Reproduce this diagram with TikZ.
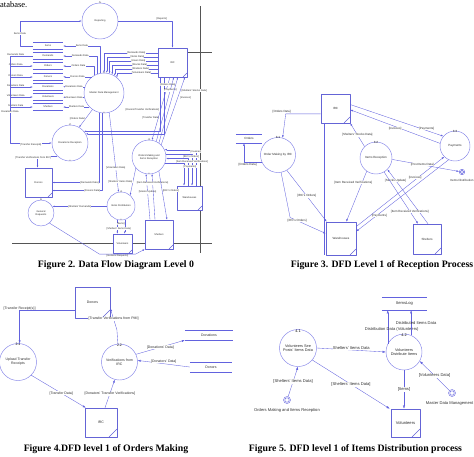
\documentclass[tikz,border=0pt]{standalone}
\usepackage{fontspec}
\setmainfont{Liberation Serif}
\setsansfont{Liberation Sans}
\usetikzlibrary{arrows.meta}

\definecolor{dfdline}{RGB}{98,98,222}
\definecolor{dfdproc}{RGB}{130,130,232}
\definecolor{dfdbox}{RGB}{100,100,214}
\definecolor{frameline}{RGB}{85,85,85}
\definecolor{dfdtext}{RGB}{45,45,45}

\newcommand\dfdsizeA{\sffamily\fontsize{2.5}{2.9}\selectfont}
\newcommand\dfdsizeB{\sffamily\fontsize{3}{3.4}\selectfont}
\newcommand\dfdsizeC{\sffamily\fontsize{3.5}{4}\selectfont}
\newcommand\dfdsizeD{\sffamily\fontsize{4.1}{4.6}\selectfont}
\newcommand\dfdsizeDc{\sffamily\fontsize{3.8}{4.4}\selectfont}

% data store: two horizontal rules with the store name between them
\newcommand\dfdstore[5]{%
  \node[storebox, minimum width=#3, minimum height=#4] (#1) at #2 {#5};
  \draw[storeline] (#1.north west) -- (#1.north east) (#1.south west) -- (#1.south east);}

\tikzset{
  flow/.style={draw=dfdline, line width=0.35pt, ->},
  link/.style={draw=dfdline, line width=0.35pt},
  proc/.style={circle, draw=dfdproc, line width=0.45pt, fill=white, inner sep=0pt, align=center, text=dfdtext},
  ent/.style={rectangle, draw=dfdbox, line width=0.55pt, fill=white, inner sep=0pt, text=dfdtext,
    path picture={\draw[dfdbox, line width=0.45pt]
      ([xshift=-#1]path picture bounding box.south east) -- ([yshift=#1]path picture bounding box.south east);}},
  ent/.default=5pt,
  storebox/.style={rectangle, inner sep=0pt, text=dfdtext},
  storeline/.style={draw=dfdline, line width=0.45pt},
  lbl/.style={fill=white, inner sep=0.25pt, text=dfdtext},
  lbln/.style={inner sep=0.25pt, text=dfdtext},
  frame/.style={draw=frameline, line width=0.4pt},
  caption/.style={font=\rmfamily\bfseries\fontsize{9.8}{11}\selectfont, text=black, inner sep=0pt, anchor=base},
  extent/.style={circle, draw=dfdline, line width=0.4pt, fill=white, inner sep=0pt, minimum size=#1,
    path picture={\draw[dfdline, line width=0.4pt] (path picture bounding box.center) circle (0.32*#1);}},
  extent/.default=6pt,
}

\begin{document}
\begin{tikzpicture}[x=1pt, y=-1pt, line join=round]
\useasboundingbox (0,0) rectangle (474,456);

\node[anchor=base west, inner sep=0pt, font=\rmfamily\fontsize{8.5}{10}\selectfont] (cuttext) at (0,7.5) {atabase.};

%% ---------------- Level 0 ----------------
\begin{scope}[every node/.append style={font=\dfdsizeA}, >={Latex[length=2.2pt,width=1.6pt]}]
\draw[frame] (200,6) -- (200,253);
\draw[frame] (187,52) -- (212,52);
\draw[frame] (12,243) -- (212,243);

\node[proc, minimum size=36pt, label={[label distance=-4.2pt]90:5}] (rep) at (100,21) {Reporting};
\node[proc, minimum size=40pt, label={[label distance=-4.2pt]90:1}, label={[label distance=-4.4pt]-90:+}] (mdm) at (104,93) {Master Data Management};
\node[proc, minimum size=36pt, label={[label distance=-4.2pt]90:2}, label={[label distance=-4.4pt]-90:+}] (don2) at (70,143) {Donations Reception};
\node[proc, minimum size=34pt, label={[label distance=-4.2pt]90:3}, label={[label distance=-4.4pt]-90:+}] (ord3) at (149,157) {Orders Making and\\Items Reception};
\node[proc, minimum size=28pt, label={[label distance=-4.2pt]90:4}, label={[label distance=-4.4pt]-90:+}] (itd4) at (121,206) {Items Distribution};
\node[proc, minimum size=26pt, label={[label distance=-4.2pt]90:6}] (gen6) at (41,213) {General\\Requests};

\node[ent=4pt, minimum width=29pt, minimum height=29pt] (irc) at (172.5,62.5) {IRC};
\node[ent=4pt, minimum width=27pt, minimum height=29pt] (donors) at (38.5,182.5) {Donors};
\node[ent=3pt, minimum width=19pt, minimum height=19pt] (vol) at (122.5,243.5) {Volunteers};
\node[ent=4pt, minimum width=28pt, minimum height=29pt] (sh) at (159,234.5) {Shelters};
\node[ent=4pt, minimum width=25pt, minimum height=24pt] (wh) at (189.5,198) {Warehouses};

\dfdstore{stI}{(48,46)}{30pt}{7pt}{Items}
\dfdstore{stD}{(48,56)}{30pt}{7pt}{Demands}
\dfdstore{stO}{(48,66)}{30pt}{7pt}{Orders}
\dfdstore{stN}{(48,77)}{30pt}{7pt}{Donors}
\dfdstore{stT}{(48,87)}{30pt}{7pt}{Donations}
\dfdstore{stV}{(48,97)}{30pt}{7pt}{Volunteers}
\dfdstore{stS}{(48,107)}{30pt}{7pt}{Shelters}

% left-hand bus feeding the stores
\coordinate (trunk) at (10,56);
\draw[link] (stD.west) -- (trunk) node[lbln,pos=0.75,above=0.1pt]{Demands Data};
\foreach \s/\t in {stO/Orders Data, stN/Donors Data, stT/Donations Data, stV/Volunteers Data, stS/Shelters Data}
  {\draw[flow] (trunk |- \s.west) -- (\s.west) node[lbln,pos=0.25,above=0.1pt]{\t};}
\draw[flow] (trunk) |- (don2.west) node[lbl,pos=0.32]{Donations Data} node[lbl,pos=0.75,below=0.2pt]{[Transfer Receipts]};

% reporting
\draw[flow] (stI.west) -- ++(-13,0) |- (rep.west) node[lbl,pos=0.25]{Items Data};
\draw[flow] (rep.east) -| (irc.north) node[lbl,pos=0.4,above=0.2pt]{[Reports]};

% IRC to master data management
\foreach \dy/\a/\t in {5/90/[Demands Data], 9/82/[Items Data], 13/74/[Users Data], 17/66/[Stocks Data], 21/58/[Shelters Data], 25/50/[Volunteers Data]}
  {\draw[flow] ([yshift=-\dy]irc.north west) -| (mdm.\a) node[lbl,pos=0.2]{\t};}

% master data management to the stores
\draw[flow] (mdm.100) |- (stI.east) node[lbl,pos=0.75]{Items Data};
\draw[flow] (mdm.110) |- (stD.east) node[lbl,pos=0.75]{Demands Data};
\draw[flow] (mdm.120) |- (stO.east) node[lbl,pos=0.75]{Orders Data};
\draw[flow] (mdm.127) -- (mdm.127 -| stN.east) node[lbl,midway]{Donors Data};
\draw[flow] (mdm.162) -- (mdm.162 -| stT.east) node[lbl,midway]{Donations Data};
\draw[flow] (mdm.192) -- (mdm.192 -| stV.east) node[lbl,midway]{Volunteers Data};
\draw[flow] (mdm.224) -- (mdm.224 -| stS.east) node[lbl,midway]{Shelters Data};

\draw[flow] (mdm.235) -- (don2.60) node[lbl,midway,left=0.5pt]{[Orders Data]};
\draw[flow] (mdm.255) |- (donors.east) node[lbl,pos=0.6]{[Demands Data]};
\draw[flow] (mdm.265) |- ([yshift=-8]donors.east) node[lbl,pos=0.6]{[Donors Data]};
\draw[flow] (mdm.285) -- (itd4.100) node[lbl,pos=0.7]{[Volunteers Data]};

% IRC and the reception processes
\draw[flow] (irc.-130) |- (don2.40) node[lbl,pos=0.3,left=0.5pt]{[Donors/Transfer Verifications]};
\draw[flow] (irc.-120) |- (don2.30) node[lbl,pos=0.36,left=4.5pt]{[Transfer Data]};
\draw[flow] (irc.-100) -- (ord3.80) node[lbl,pos=0.12]{[Orders Data]};
\draw[flow] (ord3.65) -- (irc.-85) node[lbl,pos=0.8]{[Payments]};
\draw[flow] (ord3.55) -- (irc.-70) node[lbl,pos=0.8,right=7pt]{[Shelters' Stocks Data]};
\draw[flow] (ord3.45) -- (irc.-50) node[lbl,pos=0.7,right=2pt]{[Invoices]};

% orders making and the warehouses
\draw[flow] ([xshift=6.5]wh.north) |- (ord3.25) node[lbl,pos=0.5,yshift=-2pt]{[Invoices]};
\draw[flow] (ord3.10) -| ([xshift=2.5]wh.north) node[lbl,pos=0.5,yshift=-2.5pt,xshift=-1pt]{[IRC's Orders]};
\draw[flow] ([xshift=-1.5]wh.north) |- (ord3.-5) node[lbl,pos=0.5,yshift=-3pt,xshift=4pt]{[Item Received Verifications]};
\draw[flow] (ord3.-20) -| ([xshift=-5.5]wh.north) node[lbl,pos=0.5,yshift=-4pt,xshift=6pt]{[Payments]};

% orders making and the shelters
\draw[flow] ([xshift=-9]sh.north) -- (ord3.-100) node[lbl,pos=0.6]{[Stocks Update]};
\draw[flow] ([xshift=-4]sh.north) -- (ord3.-80) node[lbl,pos=0.8]{[Item Received Verifications]};
\draw[flow] (ord3.-55) -- ([xshift=8]sh.north) node[lbl,pos=0.4,right=0.5pt]{[IRC's Orders]};

% items distribution
\draw[flow] (ord3.220) -- (itd4.50) node[lbl,pos=0.5,left=0.3pt]{[Shelters' Items Data]};
\draw[flow] (itd4.-105) -- (itd4.-105 |- vol.north) node[lbl,pos=0.3,xshift=3.5pt]{[Items]};
\draw[flow] (itd4.-75) -- (itd4.-75 |- vol.north) node[lbl,pos=0.62,xshift=-6pt]{[Shelters' Items Data]};
\draw[flow] (gen6.30 -| itd4.west) -- (gen6.30) node[lbl,midway]{[Shelters' Demands]};
\draw[flow] (gen6.-50) -- ++(50,31) -- node[lbl,below=0.3pt]{[General Requests]} ++(36,0) -- (sh.south west);

% donors
\draw[flow] (don2.225) -| ([xshift=-1]donors.north) node[lbl,pos=0.15,left,yshift=-1.5pt]{[Transfer Verifications from IRC]};
\end{scope}

%% ---------------- Reception process ----------------
\begin{scope}[every node/.append style={font=\dfdsizeB}, >={Latex[length=2.6pt,width=1.8pt]}]
\node[ent=6pt, minimum width=29pt, minimum height=29pt] (irc3) at (335.5,108.5) {IRC};
\dfdstore{ordst}{(249,138.5)}{26pt}{9pt}{Orders}
\node[proc, minimum size=35pt, label={[label distance=-5pt]90:3.1}] (p31) at (278,155) {Order Making by IRC};
\node[proc, minimum size=32pt, label={[label distance=-5pt]90:3.2}] (p32) at (376,158) {Items Reception};
\node[proc, minimum size=30pt, label={[label distance=-5pt]90:3.3}] (p33) at (455,146) {Payments};
\node[extent=5.5pt] (ext31) at (462,172) {};
\node[inner sep=0pt, text=dfdtext] (ext31l) at (462,180) {Items Distribution};
\node[ent=6pt, minimum width=30pt, minimum height=33pt] (wh3) at (341,238.5) {Warehouses};
\node[ent=6pt, minimum width=28pt, minimum height=30pt] (sh3) at (427,239) {Shelters};

\draw[flow] (irc3.200) -- node[lbl,pos=1,above=0.3pt,xshift=-4pt]{[Orders Data]} ++(-35,0) -- (p31.75);
\draw[flow] (p31.205) -| ([xshift=-5]ordst.south) node[lbl,pos=0.4,below=0.3pt]{[Orders Data]};
\draw[flow] (p31.-60) -- ([xshift=1]wh3.north west) node[lbl,midway]{[IRC's Orders]};
\draw[flow] (p31.-80) -- ++(9,45) -- node[lbl,pos=0.2]{[IRC's Orders]} ([yshift=5]wh3.west);
\draw[link] ([xshift=3]irc3.south west) -- ([xshift=-2]wh3.south west);
\draw[flow] (p32.235) -- ([xshift=-10]wh3.north east) node[lbl,pos=0.22,xshift=-9pt]{[Item Received Verifications]};
\draw[flow] (p32.135) -- (irc3.south east) node[lbl,midway]{[Shelters' Stocks Data]};
\draw[flow] (irc3.15) -- (p33.140) node[lbl,pos=0.82,above=0.2pt]{[Payments]};
\draw[flow] (p33.170) -- (irc3.-5) node[lbl,pos=0.5,below=0.2pt]{[Invoices]};
\draw[flow] (wh3.38) -- (p33.225) node[lbl,pos=0.67,above=0.2pt]{[Invoices]};
\draw[flow] (p33.245) -- (wh3.25) node[lbl,pos=0.75,below=0.2pt]{[Payments]};
\draw[flow] (p32.-5) -- (ext31) node[lbl,pos=0.45]{[Post Items Data]};
\draw[flow] ([xshift=1]sh3.north) -- (p32.-45) node[lbl,pos=0.8]{[Stocks Update]};
\draw[flow] (p32.-60) -- ([xshift=-9]sh3.north) node[lbl,pos=0.76]{[Item Received Verifications]};
\end{scope}

%% ---------------- Orders making ----------------
\begin{scope}[every node/.append style={font=\dfdsizeC}, >={Latex[length=3pt,width=2.1pt]}]
\node[ent=8pt, minimum width=35pt, minimum height=31pt] (donors4) at (92.5,302.5) {Donors};
\node[proc, minimum size=37pt, label={[label distance=-5.8pt]90:2.1}] (p21) at (18,362) {Upload Transfer\\Receipts};
\node[proc, minimum size=36pt, label={[label distance=-5.8pt]90:2.2}] (p22) at (119.5,362) {Verifications from\\IRC};
\node[ent=8pt, minimum width=32pt, minimum height=29pt] (irc4) at (101,422.5) {IRC};
\dfdstore{donst}{(209,335)}{48pt}{10pt}{Donations}
\dfdstore{donrst}{(211,367)}{42pt}{10pt}{Donors}

\draw[flow] ([yshift=-8]donors4.west) -| (p21.85) node[lbl,pos=0.5,above=0.3pt]{[Transfer Receipt(s)]};
\draw[flow] (p22.95) -- ++(-1,-14) -- node[lbl,midway]{[Transfer Verifications from PMI]} (donors4.-18);
\draw[flow] (p21.-45) -- ([xshift=1]irc4.north west) node[lbl,pos=0.55]{[Transfer Data]};
\draw[flow] ([xshift=4]irc4.north) -- (p22.-105) node[lbl,midway]{[Donators' Transfer Verifications]};
\draw[flow] (p22.25) -- (donst.south west) node[lbl,midway]{[Donations' Data]};
\draw[flow] (donrst.west) -- (p22.5) node[lbl,midway,above=0.2pt]{[Donators' Data]};
\end{scope}

%% ---------------- Items distribution ----------------
\begin{scope}[every node/.append style={font=\dfdsizeD}, >={Latex[length=3.2pt,width=2.3pt]}]
\dfdstore{logst}{(404.5,303.5)}{45pt}{13pt}{ItemsLog}
\node[proc, minimum size=37pt, font=\dfdsizeDc, label={[label distance=-6.5pt, font=\dfdsizeDc]90:4.1}] (p41) at (298,348) {Volunteers See\\Posts' Items Data};
\node[proc, minimum size=36pt, font=\dfdsizeDc, label={[label distance=-6.5pt, font=\dfdsizeDc]90:4.2}] (p42) at (404,352) {Volunteers\\Distribute Items};
\node[ent=8pt, minimum width=29pt, minimum height=28pt] (vol5) at (405.5,423) {Volunteers};
\node[extent=7pt] (ext51) at (287,400) {};
\node[inner sep=0pt, text=dfdtext] (ext51l) at (287,410) {Orders Making and Items Reception};
\node[extent=7pt] (ext52) at (452,393) {};
\node[inner sep=0pt, text=dfdtext, anchor=east] (ext52l) at (473.5,404) {Master Data Management};

\draw[flow] (p42.153) -- (p42.153 |- logst.south) node[lbln,pos=0.44,xshift=4pt]{Distribution Data (Volunteers)};
\draw[flow] (p42.67) -- (p42.67 |- logst.south) node[lbln,pos=0.49,xshift=5pt]{Distributed Items Data};
\draw[flow] (p41.east) -- (p42.west) node[lbl,midway,above=0.3pt]{Shelters' Items Data};
\draw[flow] (ext51) -- (p41.-90) node[lbl,midway]{[Shelters' Items Data]};
\draw[flow] (p41.-40) -- ([xshift=-1]vol5.north west) node[lbl,midway]{[Shelters' Items Data]};
\draw[flow] (p42.south) -- (p42.south |- vol5.north) node[lbl,midway]{[Items]};
\draw[flow] (ext52) -- (p42.-30) node[lbl,midway]{[Volunteers Data]};
\end{scope}

%% ---------------- captions ----------------
\node[caption] (cap2) at (116,267.5) {Figure 2. Data Flow Diagram Level 0};
\node[caption] (cap3) at (382,267.5) {Figure 3. DFD Level 1 of Reception Process};
\node[caption] (cap4) at (106,451.5) {Figure 4.DFD level 1 of Orders Making};
\node[caption] (cap5) at (355.5,451.5) {Figure 5. DFD level 1 of Items Distribution process};
\end{tikzpicture}
\end{document}
